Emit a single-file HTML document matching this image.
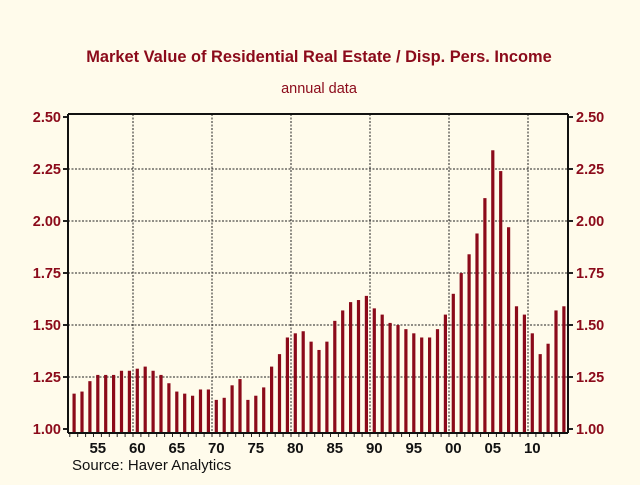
<!DOCTYPE html>
<html><head><meta charset="utf-8"><style>
html,body{margin:0;padding:0;background:#fffbeb;}
svg text{font-family:"Liberation Sans",sans-serif;}
</style></head><body>
<svg id="chart" width="640" height="480" viewBox="0 0 640 480">
<rect x="0" y="0" width="640" height="480" fill="#fffbeb"/>
<text x="319" y="62" text-anchor="middle" font-size="16.4" font-weight="bold" fill="#8b0a1a">Market Value of Residential Real Estate / Disp. Pers. Income</text>
<text x="319" y="93" text-anchor="middle" font-size="14.5" fill="#8b0a1a">annual data</text>
<g id="grid"></g>
<g id="bars"></g>
<g id="axes"></g>
<text x="72" y="470" font-size="15" fill="#111">Source: Haver Analytics</text>
</svg>
<script>
const years = [];
for (let y = 1952; y <= 2014; y++) years.push(y);
const values = [1.17,1.18,1.23,1.26,1.26,1.26,1.28,1.28,1.29,1.30,1.28,1.26,1.22,1.18,1.17,1.16,1.19,1.19,1.14,1.15,1.21,1.24,1.14,1.16,1.20,1.30,1.36,1.44,1.46,1.47,1.42,1.38,1.42,1.52,1.57,1.61,1.62,1.64,1.58,1.55,1.51,1.50,1.48,1.46,1.44,1.44,1.48,1.55,1.65,1.75,1.84,1.94,2.11,2.34,2.24,1.97,1.59,1.55,1.46,1.36,1.41,1.57,1.59];
const yTicks = [1.00,1.25,1.50,1.75,2.00,2.25,2.50];
const yTickLabels = ["1.00","1.25","1.50","1.75","2.00","2.25","2.50"];
const xLabelYears = [1955,1960,1965,1970,1975,1980,1985,1990,1995,2000,2005,2010];
const xLabels = ["55","60","65","70","75","80","85","90","95","00","05","10"];
const gridYears = [1960,1970,1980,1990,2000,2010];

const NS = "http://www.w3.org/2000/svg";
const L = 68, R = 568, T = 114, B = 433;
function yPos(v){ return 429 - (v - 1.0) * 208; }
function xStart(yr){ return 133 + (yr - 1960) * 7.9; }
function xMid(yr){ return xStart(yr) + 4.3; }
function mk(tag, attrs, parent){ const e = document.createElementNS(NS, tag); for (const k in attrs) e.setAttribute(k, attrs[k]); parent.appendChild(e); return e; }

const grid = document.getElementById('grid');
const bars = document.getElementById('bars');
const axes = document.getElementById('axes');

yTicks.forEach((v, i) => {
  const y = yPos(v);
  if (v > 1.0 && v < 2.5) {
    const g = mk('line', {x1:L, x2:R, y1:y, y2:y, stroke:'#222', 'stroke-width':1, 'stroke-dasharray':'2,1.5'}, grid);
    
    
  }
  const t1 = mk('line', {x1:L-5, x2:L, y1:y, y2:y, stroke:'#222', 'stroke-width':2}, axes);
  
  
  const t2 = mk('line', {x1:R, x2:R+5, y1:y, y2:y, stroke:'#222', 'stroke-width':2}, axes);
  
  
  const l1 = mk('text', {x:L-7, y:y+5, 'text-anchor':'end', 'font-size':14.5, 'font-weight':'bold', fill:'#8b0a1a'}, axes);
  l1.textContent = yTickLabels[i];
  
  
  const l2 = mk('text', {x:R+8, y:y+5, 'text-anchor':'start', 'font-size':14.5, 'font-weight':'bold', fill:'#8b0a1a'}, axes);
  l2.textContent = yTickLabels[i];
  
  
});

gridYears.forEach(yr => {
  const x = xStart(yr);
  const g = mk('line', {x1:x, x2:x, y1:T, y2:B, stroke:'#222', 'stroke-width':1, 'stroke-dasharray':'2,1.5'}, grid);
  
  
});

years.forEach((yr, i) => {
  const y = yPos(values[i]);
  const b = mk('rect', {x:xMid(yr)-1.6, y:y, width:3.2, height:B - y, fill:'#8b0a1a'}, bars);
  
  
  const t = mk('line', {x1:xStart(yr), x2:xStart(yr), y1:B, y2:B+4, stroke:'#222', 'stroke-width':1}, axes);
  
  
});

xLabelYears.forEach((yr, i) => {
  const t = mk('text', {x:xMid(yr), y:453, 'text-anchor':'middle', 'font-size':15, 'font-weight':'bold', fill:'#111'}, axes);
  t.textContent = xLabels[i];
  
  
});

const frame = [[L,T,R,T],[L,T,L,B],[R,T,R,B],[L,B,R,B]];
frame.forEach(f => {
  const a = mk('line', {x1:f[0], y1:f[1], x2:f[2], y2:f[3], stroke:'#111', 'stroke-width':2}, axes);
  
  
});
</script>
</body></html>
